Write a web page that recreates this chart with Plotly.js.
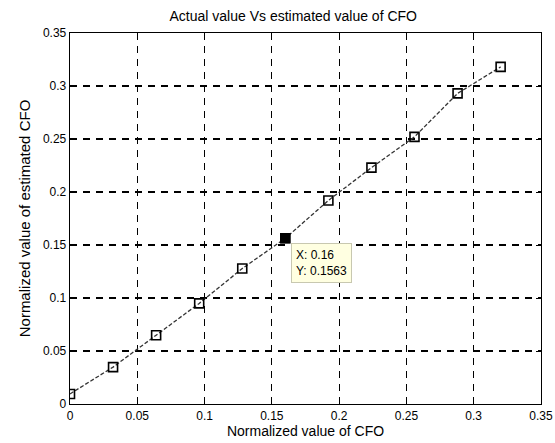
<!DOCTYPE html>
<html>
<head>
<meta charset="utf-8">
<script src="https://cdn.plot.ly/plotly-3.0.1.min.js"></script>
<style>html,body{margin:0;padding:0;background:#fff;}#chart{width:555px;height:443px;}</style>
</head>
<body>
<div id="chart"></div>
<script>
var actualCFO = [0, 0.032, 0.064, 0.096, 0.128, 0.16, 0.192, 0.224, 0.256, 0.288, 0.32];
var estimatedCFO = [0.0095, 0.0348, 0.0649, 0.0949, 0.1278, 0.1563, 0.192, 0.223, 0.252, 0.293, 0.318];
var tipIndex = 5;
var tickVals = [0, 0.05, 0.1, 0.15, 0.2, 0.25, 0.3, 0.35];
var tickText = ['0', '0.05', '0.1', '0.15', '0.2', '0.25', '0.3', '0.35'];

var fam = 'Liberation Sans, Arial, sans-serif';
var tickFont = {family: fam, size: 12, color: '#000'};

var traces = [
  {
    x: actualCFO, y: estimatedCFO, type: 'scatter', mode: 'lines+markers',
    line: {color: '#333', width: 1.3, dash: '4px,2px'},
    marker: {symbol: 'square-open', size: 9, color: '#000', line: {width: 1.6, color: '#000'}},
    showlegend: false, hoverinfo: 'skip'
  },
  {
    x: [actualCFO[tipIndex]], y: [estimatedCFO[tipIndex]], type: 'scatter', mode: 'markers',
    marker: {symbol: 'square', size: 10, color: '#000'},
    showlegend: false, hoverinfo: 'skip'
  }
];

var axisCommon = {
  range: [0, 0.35], tickvals: tickVals, ticktext: tickText,
  showgrid: true, gridcolor: '#000', gridwidth: 1.25, griddash: '7px,6px',
  zeroline: false, showline: true, linecolor: '#000', linewidth: 1.3,
  mirror: 'ticks', ticks: 'inside', ticklen: 5, tickcolor: '#000',
  tickfont: tickFont
};

var layout = {
  width: 555, height: 443,
  margin: {l: 70, r: 14, t: 33, b: 39},
  paper_bgcolor: '#fff', plot_bgcolor: '#fff',
  font: tickFont,
  title: {text: 'Actual value Vs estimated value of CFO', font: {family: fam, size: 14, color: '#000'}, x: 0.474, xref: 'paper', xanchor: 'center', y: 0.963, yanchor: 'middle'},
  xaxis: Object.assign({}, axisCommon, {title: {text: 'Normalized value of CFO', font: {family: fam, size: 14, color: '#000'}, standoff: 4}}),
  yaxis: Object.assign({}, axisCommon, {title: {text: 'Normalized value of estimated CFO', font: {family: fam, size: 15, color: '#000'}, standoff: 8}}),
  annotations: [{
    x: actualCFO[tipIndex], y: estimatedCFO[tipIndex], xref: 'x', yref: 'y',
    text: 'X: ' + actualCFO[tipIndex] + '<br>Y: ' + estimatedCFO[tipIndex],
    showarrow: false, xanchor: 'left', yanchor: 'top', xshift: 6, yshift: -5,
    align: 'left', bgcolor: '#ffffe1', bordercolor: '#c8c8b0', borderwidth: 1, borderpad: 4,
    font: {family: fam, size: 12, color: '#000'}
  }]
};

Plotly.newPlot('chart', traces, layout, {displayModeBar: false, staticPlot: true});
</script>
</body>
</html>
